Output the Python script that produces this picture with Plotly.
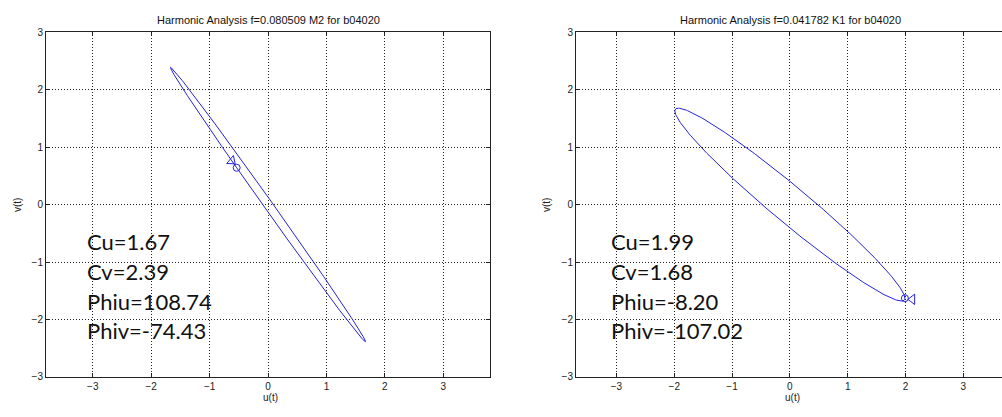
import numpy as np
import plotly.graph_objects as go

# ---- data ----
titles = ["Harmonic Analysis f=0.080509 M2 for b04020",
          "Harmonic Analysis f=0.041782 K1 for b04020"]
cu = [1.67, 1.99]
cv = [2.39, 1.68]
phiu_txt = ["108.74", "-8.20"]
phiv_txt = ["-74.43", "-107.02"]
# phases (deg) that reproduce the drawn curves
curve_phase_u = [108.74, 0.0]
curve_phase_v = [-74.43, 166.0]
# arrow (triangle) marker positions
arrow_u = [-0.62, 2.12]
arrow_v = [0.76, -1.65]
arrow_symbol = ["triangle-right-open", "triangle-left-open"]
arrow_angle = [40, 0]
tick_vals = [-3, -2, -1, 0, 1, 2, 3]

W, H = 1002, 417
blue = "rgb(35,35,215)"

fig = go.Figure()
xdomains = [[46 / W, 490 / W], [576 / W, 1.0]]
xranges = [[-3.8, 3.8], [-3.70, 3.67]]
ydomain = [1 - 381 / H, 1 - 28 / H]

t = np.radians(np.linspace(0, 360, 361))
for i in range(2):
    xa = "x" if i == 0 else "x2"
    ya = "y" if i == 0 else "y2"
    u = cu[i] * np.cos(t - np.radians(curve_phase_u[i]))
    v = cv[i] * np.cos(t - np.radians(curve_phase_v[i]))
    fig.add_trace(go.Scatter(x=u, y=v, mode="lines", line=dict(color=blue, width=1),
                             xaxis=xa, yaxis=ya, showlegend=False, hoverinfo="skip"))
    fig.add_trace(go.Scatter(x=[u[0]], y=[v[0]], mode="markers",
                             marker=dict(symbol="circle-open", size=7, color=blue,
                                         line=dict(width=1, color=blue)),
                             xaxis=xa, yaxis=ya, showlegend=False))
    fig.add_trace(go.Scatter(x=[arrow_u[i]], y=[arrow_v[i]], mode="markers",
                             marker=dict(symbol=arrow_symbol[i], size=9, color=blue,
                                         angle=arrow_angle[i],
                                         line=dict(width=1, color=blue)),
                             xaxis=xa, yaxis=ya, showlegend=False))
    labels = ["Cu=%.2f" % cu[i], "Cv=%.2f" % cv[i],
              "Phiu=" + phiu_txt[i], "Phiv=" + phiv_txt[i]]
    for k, (lab, yy) in enumerate(zip(labels, [-0.64, -1.16, -1.68, -2.2])):
        fig.add_annotation(x=-3.13, y=yy, xref=xa, yref=ya, text=lab, showarrow=False,
                           xanchor="left", yanchor="middle",
                           font=dict(family="Lato", size=22, color="#111"))

axis_common = dict(tickvals=tick_vals, ticks="inside", ticklen=4, tickcolor="#222",
                   showline=True, linecolor="#222", linewidth=1,
                   showgrid=True, gridcolor="#222", gridwidth=1, griddash="1px,2px",
                   zeroline=False, tickfont=dict(family="Liberation Sans", size=10, color="#222"))

layout = dict(width=W, height=H, margin=dict(l=0, r=0, t=0, b=0),
              paper_bgcolor="white", plot_bgcolor="white")
for i in range(2):
    sx = "xaxis" if i == 0 else "xaxis2"
    sy = "yaxis" if i == 0 else "yaxis2"
    layout[sx] = dict(domain=xdomains[i], range=xranges[i], anchor="y" if i == 0 else "y2",
                      mirror="ticks", **axis_common)
    layout[sy] = dict(domain=ydomain, range=[-3, 3], anchor="x" if i == 0 else "x2",
                      mirror="ticks" if i == 0 else False, **axis_common)
fig.update_layout(**layout)

centers = [268, 790]
vlab_x = [17, 546]
for i in range(2):
    fig.add_annotation(x=centers[i] / W, y=1 - 15 / H, xref="paper", yref="paper",
                       text=titles[i], showarrow=False, xanchor="center", yanchor="middle",
                       font=dict(family="Liberation Sans", size=11, color="#111"))
    fig.add_annotation(x=(centers[i] + 2) / W, y=1 - 402 / H, xref="paper", yref="paper",
                       text="u(t)", showarrow=False, xanchor="center", yanchor="middle",
                       font=dict(family="Liberation Sans", size=10, color="#222"))
    fig.add_annotation(x=vlab_x[i] / W, y=1 - 205 / H, xref="paper", yref="paper",
                       text="v(t)", showarrow=False, xanchor="center", yanchor="middle",
                       textangle=-90,
                       font=dict(family="Liberation Sans", size=10, color="#222"))

fig.write_html("out.html")
